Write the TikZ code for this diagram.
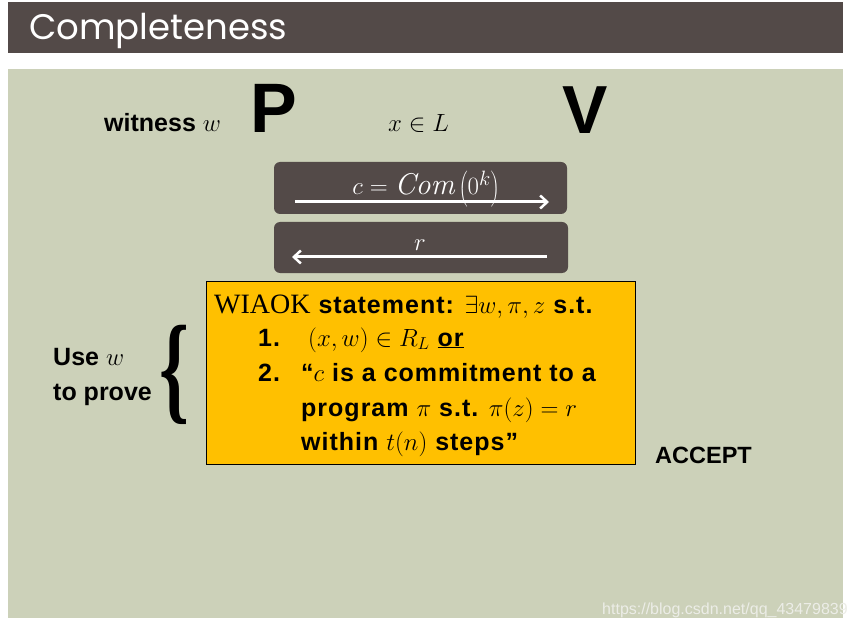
\documentclass[tikz,border=0pt]{standalone}
\usepackage{fontspec}
\setsansfont{Liberation Sans}
\newfontfamily\titlefont{Poppins}
\newfontfamily\libserif{Liberation Serif}
\usetikzlibrary{arrows.meta}
\definecolor{darkbar}{HTML}{534A48}
\definecolor{panel}{HTML}{CCD1B9}
\definecolor{gold}{HTML}{FFC000}
\definecolor{wm}{HTML}{ECEDE7}
\tikzset{
  msgbox/.style={fill=darkbar, rounded corners=6pt, draw=none},
  msgarrow/.style={white, line width=3pt, -{Straight Barb[length=7pt,width=13pt,line width=2.5pt]}},
  lbl/.style={inner sep=0pt, anchor=base west, font=\sffamily\bfseries\fontsize{25}{28}\selectfont},
  boxline/.style={inner sep=0pt, anchor=base west, font=\sffamily\bfseries\fontsize{25}{28}\selectfont\addfontfeature{LetterSpace=4}},
}
\begin{document}
\begin{tikzpicture}[x=1pt,y=-1pt]
\useasboundingbox (0,0) rectangle (856,628);
\fill[white] (0,0) rectangle (856,628);
% title bar
\fill[darkbar] (8,2) rectangle (843,53);
\node[inner sep=0pt, anchor=base west, text=white, font=\titlefont\fontsize{35.5}{38}\selectfont] (title) at (29,40) {Completeness};
% panel
\fill[panel] (8,69) rectangle (843,618);
% header row
\node[lbl] (wit) at (104,132) {witness $w$};
\node[inner sep=0pt, anchor=base west, font=\sffamily\bfseries\fontsize{70}{70}\selectfont] (P) at (250,133) {P};
\node[inner sep=0pt, anchor=base west, font=\fontsize{27}{28}\selectfont] (xL) at (388,132) {$x\in L$};
\node[inner sep=0pt, anchor=base west, font=\sffamily\bfseries\fontsize{68}{68}\selectfont] (V) at (562,134) {V};
% messages
\node[msgbox, minimum width=293pt, minimum height=52pt] (m1) at (420.5,188) {};
\node[inner sep=0pt, anchor=base, text=white, font=\fontsize{30}{32}\selectfont] (m1t) at (426,195) {$c = \mathit{Com}\left(0^k\right)$};
\coordinate (a1s) at (295,202);
\coordinate (a1e) at (549,202);
\draw[msgarrow] (a1s) -- (a1e);
\node[msgbox, minimum width=294pt, minimum height=51pt] (m2) at (421,247.5) {};
\node[inner sep=0pt, anchor=base, text=white, font=\fontsize{28}{30}\selectfont] (m2t) at (420,251) {$r$};
\coordinate (a2s) at (547,257);
\coordinate (a2e) at (292,257);
\draw[msgarrow] (a2s) -- (a2e);
% statement box
\node[fill=gold, draw=black, line width=0.8pt, minimum width=429pt, minimum height=183pt] (stmt) at (420.5,372.5) {};
\node[boxline] (l1) at (214,313) {{\libserif\mdseries\fontsize{28}{30}\selectfont\addfontfeature{LetterSpace=0}WIAOK} statement: {\fontsize{27}{30}\selectfont$\exists w,\pi,z$} s.t.};
\node[boxline] (n1) at (258,346) {1.};
\node[boxline] (l2) at (308,346) {{\fontsize{26}{30}\selectfont$(x,w)\in R_L$} \underline{or}};
\node[boxline] (n2) at (258,381) {2.};
\node[boxline] (l3) at (301,381) {``$c$ is a commitment to a};
\node[boxline] (l4) at (301,416) {program $\pi$ s.t. $\pi(z)=r$};
\node[boxline] (l5) at (301,450) {within $t(n)$ steps''};
% left note
\node[lbl] (use) at (53,365) {Use $w$};
\node[lbl] (prove) at (53,400) {to prove};
\node[inner sep=0pt] (brace) at (174,375) {\scalebox{1.9}[3.0]{\libserif\bfseries\fontsize{40}{40}\selectfont\{}};
% accept
\node[lbl, font=\sffamily\bfseries\fontsize{23.5}{26}\selectfont] (acc) at (655,463) {ACCEPT};
% watermark
\node[inner sep=0pt, anchor=base west, text=wm, font=\sffamily\fontsize{16}{18}\selectfont] (wmk) at (602,614) {https://blog.csdn.net/qq\_43479839};
\end{tikzpicture}
\end{document}
